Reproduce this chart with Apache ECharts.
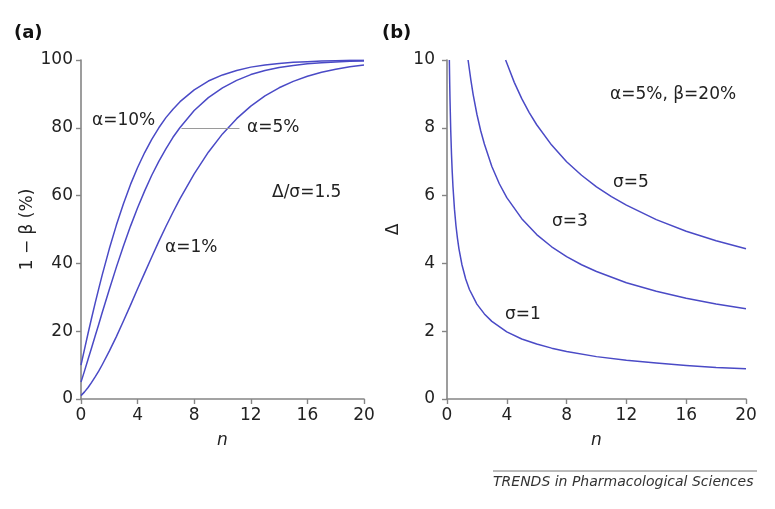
<!DOCTYPE html>
<html>
<head>
<meta charset="utf-8">
<script src="https://cdn.jsdelivr.net/npm/echarts@6/dist/echarts.min.js"></script>
<style>
html,body{margin:0;padding:0;background:#fff;}
#c{width:775px;height:509px;}
</style>
</head>
<body>
<div id="c"></div>
<script>
// ---------- Panel (a): power 1 - beta (%) vs n, delta/sigma = 1.5 ----------
var nA = [0, 0.1, 0.25, 0.5, 0.75, 1, 1.25, 1.5, 2, 2.5, 3, 3.5, 4, 4.5, 5, 5.5, 6, 6.5, 7, 8, 9, 10, 11, 12, 13, 14, 15, 16, 17, 18, 19, 20];
var powerAlpha10 = [10.0, 11.9, 14.7, 19.4, 23.9, 28.3, 32.5, 36.6, 44.3, 51.3, 57.6, 63.3, 68.3, 72.7, 76.6, 80.0, 83.0, 85.5, 87.7, 91.2, 93.8, 95.6, 96.9, 97.9, 98.5, 99.0, 99.3, 99.5, 99.7, 99.8, 99.9, 99.9];
var powerAlpha5  = [5.0, 6.3, 8.3, 11.7, 15.1, 18.6, 22.0, 25.5, 32.3, 38.9, 45.1, 51.0, 56.4, 61.4, 66.0, 70.1, 73.8, 77.2, 80.1, 85.1, 88.9, 91.8, 94.0, 95.7, 96.9, 97.8, 98.4, 98.9, 99.2, 99.4, 99.6, 99.7];
var powerAlpha1  = [1.0, 1.4, 2.1, 3.4, 4.9, 6.5, 8.2, 10.1, 14.1, 18.4, 23.0, 27.7, 32.5, 37.2, 41.9, 46.5, 50.9, 55.1, 59.1, 66.4, 72.8, 78.2, 82.7, 86.4, 89.4, 91.8, 93.7, 95.2, 96.4, 97.3, 98.0, 98.5];

// ---------- Panel (b): detectable difference delta vs n, alpha=5%, beta=20% ----------
var nSigma1 = [0.157, 0.18, 0.2, 0.25, 0.3, 0.35, 0.4, 0.5, 0.6, 0.7, 0.8, 1, 1.25, 1.5, 2, 2.5, 3, 4, 5, 6, 7, 8, 10, 12, 14, 16, 18, 20];
var dSigma1 = [10.0, 9.34, 8.86, 7.92, 7.23, 6.70, 6.26, 5.60, 5.11, 4.74, 4.43, 3.96, 3.54, 3.23, 2.80, 2.51, 2.29, 1.98, 1.77, 1.62, 1.50, 1.40, 1.25, 1.14, 1.06, 0.99, 0.93, 0.89];
var nSigma3 = [1.41, 1.6, 1.75, 2, 2.25, 2.5, 3, 3.5, 4, 5, 6, 7, 8, 9, 10, 12, 14, 16, 18, 20];
var dSigma3 = [10.0, 9.40, 8.98, 8.40, 7.92, 7.52, 6.86, 6.35, 5.94, 5.32, 4.85, 4.49, 4.20, 3.96, 3.76, 3.43, 3.18, 2.97, 2.80, 2.66];
var nSigma5 = [3.92, 4, 4.5, 5, 5.5, 6, 7, 8, 9, 10, 11, 12, 14, 16, 18, 20];
var dSigma5 = [10.0, 9.91, 9.34, 8.86, 8.45, 8.09, 7.49, 7.00, 6.60, 6.26, 5.97, 5.72, 5.29, 4.95, 4.67, 4.43];

// leader line for alpha=5% label (data coords)
var leader5 = [[7.1, 80], [11.2, 80]];

var xTicks = {min: 0, max: 20, interval: 4};
var yTicksA = {min: 0, max: 100, interval: 20};
var yTicksB = {min: 0, max: 10, interval: 2};

function zip(xs, ys) { return xs.map(function (x, i) { return [x, ys[i]]; }); }

var FONT = 'DejaVu Sans';
var LINE = '#4a4ac6';
var AXIS = '#858585';
var TXT = '#222';

function xAxis(gi) {
  return {
    type: 'value', gridIndex: gi, min: xTicks.min, max: xTicks.max, interval: xTicks.interval,
    splitLine: {show: false},
    axisLine: {show: true, onZero: false, lineStyle: {color: AXIS, width: 1.6}},
    axisTick: {show: true, inside: false, length: 5, lineStyle: {color: AXIS, width: 1.4}},
    axisLabel: {color: TXT, fontFamily: FONT, fontSize: 17, margin: 8},
    name: 'n', nameLocation: 'middle', nameGap: 33,
    nameTextStyle: {color: TXT, fontFamily: FONT, fontSize: 17, fontStyle: 'italic'}
  };
}
function yAxis(gi, t, name, gap, lm) {
  return {
    type: 'value', gridIndex: gi, min: t.min, max: t.max, interval: t.interval,
    splitLine: {show: false},
    axisLine: {show: true, onZero: false, lineStyle: {color: AXIS, width: 1.6}},
    axisTick: {show: true, inside: false, length: 5, lineStyle: {color: AXIS, width: 1.4}},
    axisLabel: {color: TXT, fontFamily: FONT, fontSize: 17, margin: lm},
    name: name, nameLocation: 'middle', nameGap: gap, nameRotate: 90,
    nameTextStyle: {color: TXT, fontFamily: FONT, fontSize: 17}
  };
}
function curve(xi, yi, data) {
  return {
    type: 'line', xAxisIndex: xi, yAxisIndex: yi, data: data,
    smooth: false, showSymbol: false, symbol: 'none',
    lineStyle: {color: LINE, width: 1.5, join: 'round'}, clip: true, silent: true
  };
}
function label(x, y, s) {
  return {type: 'text', left: x, top: y, style: {text: s, fill: TXT, font: '17px "' + FONT + '"'}};
}

var chart = echarts.init(document.getElementById('c'), null, {renderer: 'canvas'});
var a5 = curve(0, 0, zip(nA, powerAlpha5));
a5.markLine = {
  silent: true, symbol: 'none', label: {show: false},
  lineStyle: {color: '#9a9a9a', width: 1, type: 'solid'},
  data: [[{coord: leader5[0]}, {coord: leader5[1]}]]
};
chart.setOption({
  animation: false,
  backgroundColor: '#fff',
  grid: [
    {left: 81, top: 60, width: 283, height: 339, containLabel: false},
    {left: 447, top: 60, width: 299, height: 339, containLabel: false}
  ],
  xAxis: [xAxis(0), xAxis(1)],
  yAxis: [yAxis(0, yTicksA, '1 \u2212 \u03b2 (%)', 45, 8), yAxis(1, yTicksB, '\u0394', 45, 12)],
  series: [
    curve(0, 0, zip(nA, powerAlpha10)),
    a5,
    curve(0, 0, zip(nA, powerAlpha1)),
    curve(1, 1, zip(nSigma1, dSigma1)),
    curve(1, 1, zip(nSigma3, dSigma3)),
    curve(1, 1, zip(nSigma5, dSigma5))
  ],
  graphic: [
    {type: 'text', left: 14, top: 24, style: {text: '(a)', fill: '#111', font: 'bold 18px "' + FONT + '"'}},
    {type: 'text', left: 382, top: 24, style: {text: '(b)', fill: '#111', font: 'bold 18px "' + FONT + '"'}},
    label(92, 112, '\u03b1=10%'),
    label(247, 119, '\u03b1=5%'),
    label(272, 184, '\u0394/\u03c3=1.5'),
    label(165, 239, '\u03b1=1%'),
    label(610, 86, '\u03b1=5%, \u03b2=20%'),
    label(613, 174, '\u03c3=5'),
    label(552, 213, '\u03c3=3'),
    label(505, 306, '\u03c3=1'),
    {type: 'line', shape: {x1: 493, y1: 471, x2: 757, y2: 471}, style: {stroke: '#777', lineWidth: 1}},
    {type: 'text', left: 493, top: 475, style: {text: 'TRENDS in Pharmacological Sciences', fill: '#333', font: 'italic 14px "' + FONT + '"'}}
  ]
});
</script>
</body>
</html>
